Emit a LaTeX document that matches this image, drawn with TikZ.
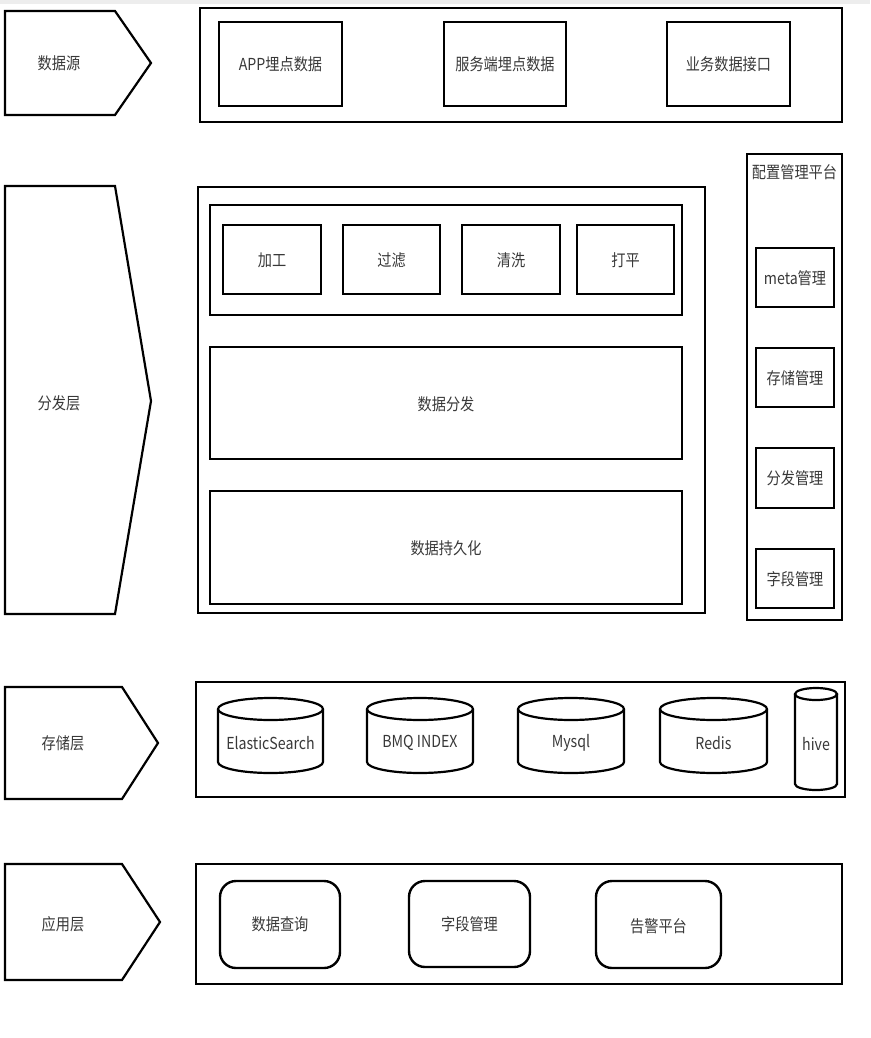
\documentclass[tikz,border=0pt]{standalone}
\usepackage{fontspec}
\setmainfont{Noto Sans CJK SC}[FakeStretch=0.86]
\begin{document}
\begin{tikzpicture}[x=1pt,y=-1pt,
  every node/.style={font=\fontsize{16.5}{18}\selectfont, text=black!78},
  outer/.style={draw, line width=2.6pt},
  inner/.style={draw, line width=2.3pt},
  arrowshape/.style={draw, line width=2.2pt, line join=miter},
  cylline/.style={draw, line width=2.2pt},
  roundbox/.style={draw, line width=2.4pt, rounded corners=16pt}]
\useasboundingbox (0,0) rectangle (870,1038);
\fill[black!7] (0,0) rectangle (870,4);

% ---- left layer pentagons
\draw[arrowshape] (5,11) -- (115,11) -- (151,63) -- (115,115) -- (5,115) -- cycle;
\node (l1) at (59,63) {数据源};
\draw[arrowshape] (5,186) -- (115,186) -- (151,401) -- (115,614) -- (5,614) -- cycle;
\node (l2) at (59,403) {分发层};
\draw[arrowshape] (5,687) -- (122,687) -- (158,743) -- (122,799) -- (5,799) -- cycle;
\node (l3) at (63,743) {存储层};
\draw[arrowshape] (5,864) -- (122,864) -- (160,922) -- (122,980) -- (5,980) -- cycle;
\node (l4) at (63,924) {应用层};

% ---- data source layer
\draw[outer] (200,8) rectangle (842,122);
\draw[inner] (219,22) rectangle (342,106);
\node (app) at (280.5,64) {APP埋点数据};
\draw[inner] (444,22) rectangle (566,106);
\node (srv) at (505,64) {服务端埋点数据};
\draw[inner] (667,22) rectangle (790,106);
\node (biz) at (728.5,64) {业务数据接口};

% ---- distribution layer
\draw[outer] (198,187) rectangle (705,613);
\draw[inner] (210,205) rectangle (682,315);
\draw[inner] (223,225) rectangle (321,294);
\node (jg) at (272,260) {加工};
\draw[inner] (343,225) rectangle (440,294);
\node (gl) at (391.5,260) {过滤};
\draw[inner] (462,225) rectangle (560,294);
\node (qx) at (511,260) {清洗};
\draw[inner] (577,225) rectangle (674,294);
\node (dp) at (625.5,260) {打平};
\draw[inner] (210,347) rectangle (682,459);
\node (fenfa) at (446,404) {数据分发};
\draw[inner] (210,491) rectangle (682,604);
\node (persist) at (446,548) {数据持久化};

% ---- config platform
\draw[outer] (747,154) rectangle (842,620);
\node (cfg) at (794.5,172) {配置管理平台};
\draw[inner] (756,248) rectangle (834,307);
\node (meta) at (795,278) {meta管理};
\draw[inner] (756,348) rectangle (834,407);
\node (stm) at (795,378) {存储管理};
\draw[inner] (756,448) rectangle (834,508);
\node (ffm) at (795,478) {分发管理};
\draw[inner] (756,549) rectangle (834,608);
\node (zdm) at (795,579) {字段管理};

% ---- storage layer
\draw[outer] (196,682) rectangle (845,797);
\newcommand\dbcyl[7]{%
  \draw[cylline] (#2,{#3+#7}) -- (#2,{#3+#5-#7})
    arc[start angle=180,end angle=360,x radius={#4/2*1pt},y radius={#7*1pt}]
    -- ({#2+#4},{#3+#7});
  \draw[cylline] ({#2+#4/2},{#3+#7}) ellipse[x radius={#4/2*1pt},y radius={#7*1pt}];
  \node (#1) at ({#2+#4/2},{#3+#5/2+#7/2+2}) {#6};}
\dbcyl{es}{218}{698}{105}{75}{ElasticSearch}{11}
\dbcyl{bmq}{367}{698}{106}{75}{BMQ INDEX}{11}
\dbcyl{mysql}{518}{698}{106}{75}{Mysql}{11}
\dbcyl{redis}{660}{698}{107}{75}{Redis}{11}
\dbcyl{hive}{795}{688}{42}{102}{hive}{6}

% ---- application layer
\draw[outer] (196,864) rectangle (842,984);
\draw[roundbox] (220,881) rectangle (340,968);
\node (query) at (280,924) {数据查询};
\draw[roundbox] (409,881) rectangle (530,967);
\node (field) at (469.5,924) {字段管理};
\draw[roundbox] (596,881) rectangle (721,968);
\node (alarm) at (658.5,926) {告警平台};
\end{tikzpicture}
\end{document}
